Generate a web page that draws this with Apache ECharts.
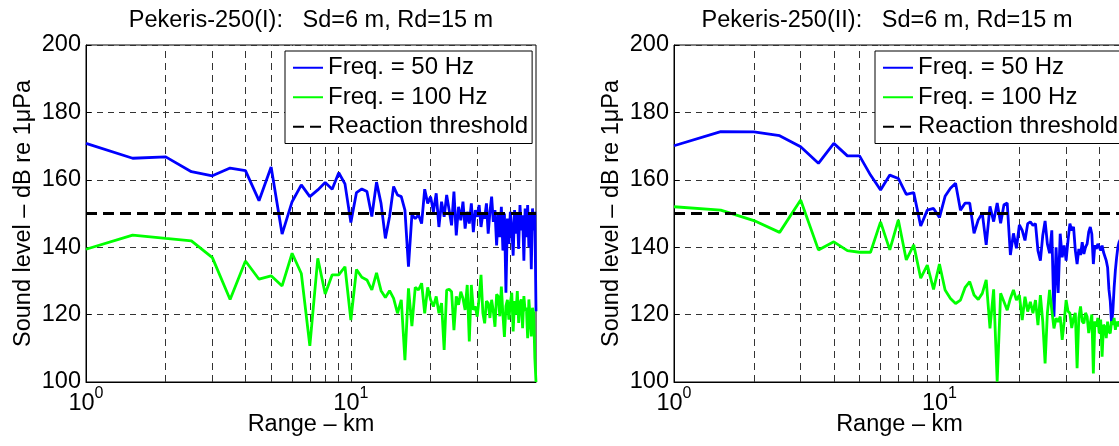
<!DOCTYPE html>
<html>
<head>
<meta charset="utf-8">
<script src="https://cdn.jsdelivr.net/npm/echarts@6/dist/echarts.min.js"></script>
<style>
  html, body { margin: 0; padding: 0; background: #fff; }
  #chart { width: 1119px; height: 446px; }
</style>
</head>
<body>
<div id="chart"></div>
<script>
// Range grid (km) shared by every curve
const ranges = [1,1.5,2,2.5,3,3.5,4,4.5,5,5.5,6,6.5,7,7.5,8,8.5,9,9.5,10,10.5,
  11,11.5,12,12.5,13,13.5,14,14.5,15,15.5,16,16.5,17,17.5,18,18.5,19,19.5,20,20.5,
  21,21.5,22,22.5,23,23.5,24,24.5,25,25.5,26,26.5,27,27.5,28,28.5,29,29.5,30,30.5,
  31,31.5,32,32.5,33,33.5,34,34.5,35,35.5,36,36.5,37,37.5,38,38.5,39,39.5,40,40.5,
  41,41.5,42,42.5,43,43.5,44,44.5,45,45.5,46,46.5,47,47.5,48,48.5,49,49.5,50];

// Pekeris-250(I), 50 Hz and 100 Hz (dB re 1 uPa)
const caseI_50Hz = [170.8,166.4,166.8,162.4,161.2,163.5,162.7,153.8,163.8,143.9,
  153.5,158.5,155.0,157.0,159.2,157.2,162.1,158.8,147.3,156.2,
  157.3,156.5,149.1,159.3,153.0,142.6,149.1,158.0,155.5,155.0,
  151.0,134.2,149.6,148.5,149.6,147.0,157.2,153.0,155.0,150.5,
  156.0,146.0,153.5,149.0,155.5,151.0,146.5,156.5,143.5,152.0,
  148.0,153.5,145.5,150.5,147.0,153.0,144.5,151.0,149.0,152.5,
  146.0,150.0,148.5,153.0,144.0,150.5,155.0,147.5,151.0,140.5,
  149.5,143.0,152.0,139.0,150.0,126.5,148.5,141.0,150.5,146.0,
  137.5,151.0,144.0,150.0,139.5,152.5,145.0,149.5,136.0,151.5,
  143.0,152.5,140.0,150.0,133.5,151.5,145.0,150.5,121.0];
const caseI_100Hz = [139.4,143.6,142.6,141.9,136.9,124.5,135.9,130.5,131.5,128.5,
  138.2,132.2,110.7,136.7,126.1,131.8,131.8,134.2,118.4,133.4,
  131.1,130.3,127.3,132.4,127.1,125.1,127.1,124.8,120.4,124.4,
  106.5,127.8,116.6,128.1,127.3,129.3,120.4,128.1,124.4,122.4,
  125.4,120.4,123.4,109.5,127.3,127.5,126.8,115.4,125.4,122.9,
  126.8,124.8,121.4,128.8,112.0,128.8,121.4,122.4,119.4,125.0,
  131.8,120.5,117.4,124.0,123.4,119.0,124.4,121.0,116.4,126.0,
  125.4,119.5,128.3,120.0,113.4,122.5,124.4,118.5,123.4,126.5,
  115.0,124.0,120.0,127.0,117.5,123.5,124.5,116.0,125.5,121.0,
  122.0,113.0,124.5,119.0,113.5,122.0,120.5,107.0,100.0];

// Pekeris-250(II), 50 Hz and 100 Hz (dB re 1 uPa)
const caseII_50Hz = [170.1,174.3,174.2,173.1,169.8,164.9,170.8,167.1,167.1,161.4,
  157.0,161.4,160.4,155.7,156.2,146.3,151.0,151.5,148.8,155.1,
  157.5,159.0,151.0,153.1,153.1,144.1,148.1,150.1,140.7,152.1,
  147.6,153.1,147.1,152.6,153.1,137.7,144.1,139.7,146.6,145.0,
  142.0,147.0,147.5,146.5,147.0,139.0,136.0,143.5,147.8,141.0,
  138.2,145.0,119.4,140.0,126.4,144.0,137.0,140.5,136.0,142.0,
  147.0,145.0,146.0,139.0,135.0,139.5,137.7,141.5,138.0,140.0,
  141.0,144.5,146.0,143.9,135.0,140.6,139.5,141.0,141.0,139.0,
  140.5,138.5,138.0,136.0,134.0,127.4,124.0,117.4,121.0,128.0,
  133.2,137.0,140.0,141.5,142.0,143.0,142.0,141.0,140.0];
const caseII_100Hz = [152.0,151.0,147.9,144.4,154.0,139.2,141.6,139.0,138.5,138.5,
  147.5,139.2,148.1,136.2,140.7,130.8,134.7,127.5,135.0,127.3,
  124.8,123.3,124.3,128.1,129.8,125.8,124.5,126.3,130.3,115.9,
  127.5,100.1,126.3,123.8,121.3,124.8,127.3,124.3,125.8,118.4,
  125.3,120.9,123.8,120.4,124.3,116.9,125.8,117.9,105.5,120.4,
  127.3,121.3,115.9,118.9,117.9,119.4,112.5,117.9,124.3,121.0,
  120.4,116.0,118.9,120.5,104.1,119.0,122.4,118.0,117.4,120.5,
  119.4,114.5,117.4,120.0,102.5,118.0,116.4,119.0,114.4,118.5,
  107.5,117.0,116.4,113.0,117.9,115.0,114.4,118.0,117.0,119.0,
  115.5,118.0,116.5,118.0,117.0,118.5,116.0,118.0,117.0];

const thresholdLevel = 150;
const rangeExtent = [1, 50];
const levelExtent = [100, 200];
const levelStep = 20;
const minorRanges = [2, 3, 4, 5, 6, 7, 8, 9, 10, 20, 30, 40];

const titles = ['Pekeris-250(I):   Sd=6 m, Rd=15 m', 'Pekeris-250(II):   Sd=6 m, Rd=15 m'];
const seriesNames = ['Freq. = 50 Hz', 'Freq. = 100 Hz', 'Reaction threshold'];
const xName = 'Range \u2013 km';
const yName = 'Sound level \u2013 dB re 1\u03bcPa';

const FONT = '"Liberation Sans", Arial, Helvetica, sans-serif';
const FS = 23.5;

const panels = [
  { left: 86, width: 450, titleX: 311, legendLeft: 285, a: caseI_50Hz, b: caseI_100Hz },
  { left: 674, width: 451, titleX: 887, legendLeft: 875, a: caseII_50Hz, b: caseII_100Hz }
];

const pairs = vals => ranges.map((r, i) => [r, vals[i]]);

const grid = [], xAxis = [], yAxis = [], series = [], legend = [], graphic = [];

panels.forEach((p, k) => {
  grid.push({ left: p.left, top: 45, width: p.width, height: 337, show: true,
    outerBoundsMode: 'none', containLabel: false,
    borderColor: '#000', borderWidth: 1, backgroundColor: 'transparent' });

  xAxis.push({
    type: 'log', logBase: 10, gridIndex: k, min: rangeExtent[0], max: rangeExtent[1],
    axisLine: { lineStyle: { color: '#000', width: 1 } },
    axisTick: { show: false },
    splitLine: { show: false },
    axisLabel: {
      margin: 3.5,
      formatter: v => {
        const e = Math.log10(v);
        if (Math.abs(e - Math.round(e)) > 1e-6 || v > 20) return '';
        return '{b|10}{s|' + Math.round(e) + '}';
      },
      rich: {
        b: { fontSize: FS, fontFamily: FONT, color: '#000', lineHeight: 30, verticalAlign: 'bottom' },
        s: { fontSize: 16, fontFamily: FONT, color: '#000', lineHeight: 8, verticalAlign: 'top' }
      }
    },
    name: xName, nameLocation: 'middle', nameGap: 31, nameMoveOverlap: false,
    nameTextStyle: { fontSize: FS, fontFamily: FONT, color: '#000' }
  });

  yAxis.push({
    type: 'value', gridIndex: k, min: levelExtent[0], max: levelExtent[1], interval: levelStep,
    axisLine: { show: true, lineStyle: { color: '#000', width: 1 } },
    axisTick: { show: true, inside: true, length: 5, lineStyle: { color: '#000' } },
    axisLabel: { fontSize: FS, fontFamily: FONT, color: '#000', margin: 5 },
    splitLine: { show: true, lineStyle: { color: '#333', width: 1, type: [6, 5] } },
    name: yName, nameLocation: 'middle', nameGap: 50, nameRotate: 90, nameMoveOverlap: false,
    nameTextStyle: { fontSize: FS, fontFamily: FONT, color: '#000' }
  });

  // dashed vertical grid at the log-decade subdivisions
  series.push({
    type: 'line', xAxisIndex: k, yAxisIndex: k, silent: true, z: 1,
    data: [[rangeExtent[0], levelExtent[0]], [rangeExtent[1], levelExtent[0]]],
    symbol: 'none', lineStyle: { opacity: 0 },
    markLine: {
      z: 1, silent: true, symbol: 'none', animation: false,
      label: { show: false },
      lineStyle: { color: '#333', width: 1, type: [7, 5] },
      emphasis: { disabled: true },
      data: minorRanges.map(v => ({ xAxis: v }))
    }
  });

  series.push({
    name: seriesNames[0], type: 'line', xAxisIndex: k, yAxisIndex: k, z: 3,
    data: pairs(p.a), symbol: 'none', showSymbol: false,
    itemStyle: { color: '#0000ff' },
    lineStyle: { color: '#0000ff', width: 2.8 }
  });
  series.push({
    name: seriesNames[1], type: 'line', xAxisIndex: k, yAxisIndex: k, z: 3,
    data: pairs(p.b), symbol: 'none', showSymbol: false,
    itemStyle: { color: '#00ff00' },
    lineStyle: { color: '#00ff00', width: 2.8 }
  });
  series.push({
    name: seriesNames[2], type: 'line', xAxisIndex: k, yAxisIndex: k, z: 4,
    data: [[rangeExtent[0], thresholdLevel], [rangeExtent[1], thresholdLevel]],
    symbol: 'none', showSymbol: false,
    itemStyle: { color: '#000' },
    lineStyle: { color: '#000', width: 3, type: [11, 6] }
  });

  legend.push({
    orient: 'vertical', left: p.legendLeft, top: 51, z: 10,
    data: seriesNames,
    itemWidth: 30, itemHeight: 14, itemGap: 0,
    padding: [2, 4, 2, 7],
    backgroundColor: '#fff', borderColor: '#000', borderWidth: 1, borderRadius: 0,
    selectedMode: false,
    itemStyle: { opacity: 0 },
    textStyle: { fontSize: 24, fontFamily: FONT, color: '#000', lineHeight: 29.5 }
  });

  graphic.push({
    type: 'text', x: p.titleX, y: 21, silent: true,
    style: { text: titles[k], fill: '#000', font: FS + 'px ' + FONT, align: 'center', verticalAlign: 'middle' }
  });
});

const chart = echarts.init(document.getElementById('chart'), null, { renderer: 'canvas' });
chart.setOption({
  animation: false,
  backgroundColor: '#fff',
  textStyle: { fontFamily: FONT },
  grid, xAxis, yAxis, series, legend, graphic
});
</script>
</body>
</html>
